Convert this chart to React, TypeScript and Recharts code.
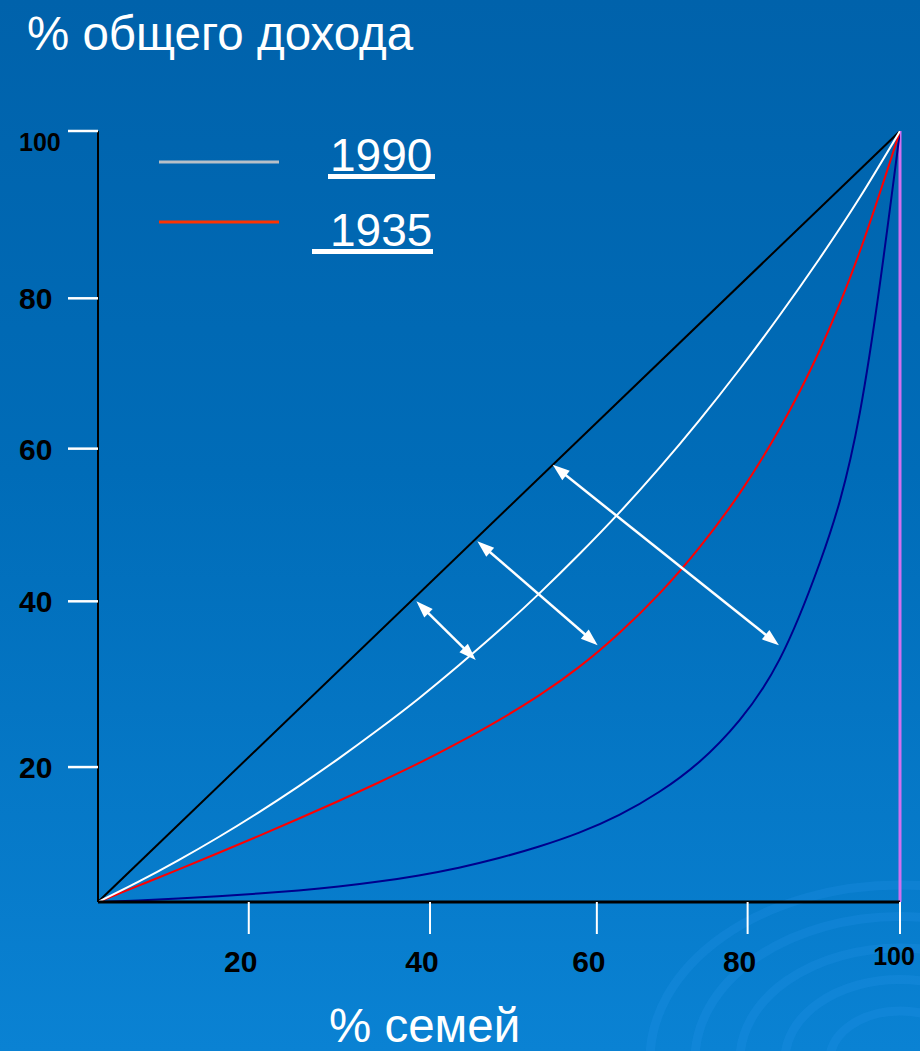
import React from 'react';
import { LineChart, Line, XAxis, YAxis, ReferenceLine } from 'recharts';

// % of families (x), evenly spaced grid shared by all curves
const familyShare = [0, 5, 10, 15, 20, 25, 30, 35, 40, 45, 50, 55, 60, 65, 70, 75, 80, 85, 90, 95, 100];
// % of total income
const income1990 = [0, 2.6, 5.4, 8.4, 11.6, 15.0, 18.6, 22.4, 26.4, 30.7, 35.2, 40.0, 45.1, 50.5, 56.3, 62.5, 69.1, 76.1, 83.5, 91.4, 100];
const income1935 = [0, 2.1, 4.2, 6.35, 8.55, 10.8, 13.1, 15.5, 18.0, 20.7, 23.6, 26.8, 30.5, 34.9, 40.0, 46.0, 53.0, 61.4, 71.6, 84.4, 100];
const incomeWorst = [0, 0.2, 0.45, 0.75, 1.1, 1.5, 2.0, 2.65, 3.45, 4.45, 5.7, 7.2, 9.0, 11.3, 14.3, 18.2, 23.6, 31.5, 44.0, 63.5, 100];
const equality = [0, 100];
const equalityX = [0, 100];

// ticks sit where the slide put them (not evenly spaced)
const xTickPos = [18.8, 41.4, 62.2, 81.0, 100];
const xTickLabels = ['20', '40', '60', '80', '100'];
const yTickPos = [17.5, 39.0, 58.8, 78.3, 100];
const yTickLabels = ['20', '40', '60', '80', '100'];

// gap arrows: [x1, y1, x2, y2]
const arrows = [
  [39.7, 39.0, 47.1, 31.4],
  [47.3, 46.8, 62.3, 33.3],
  [56.7, 56.7, 84.9, 33.3],
];

const legendLabels = ['1990', '1935'];
const legendColors = ['#b8c0c8', '#ff3300'];

const FONT = '"Liberation Sans", Arial, sans-serif';

const toPoints = (xs: number[], ys: number[]) => xs.map((x, i) => ({ x, y: ys[i] }));

const XTick = (props: any) => {
  const { x, y, index } = props;
  const label = xTickLabels[index];
  const small = label === '100';
  return (
    <text x={x - (small ? 6 : 8)} y={y + (small ? 31 : 38)} textAnchor="middle"
      fontSize={small ? 25 : 30} fontWeight="bold" fill="#000" fontFamily={FONT}>
      {label}
    </text>
  );
};

const YTick = (props: any) => {
  const { x, y, index } = props;
  const label = yTickLabels[index];
  const small = label === '100';
  return (
    <text x={x - 49} y={y + (small ? 20 : 11)} textAnchor="start"
      fontSize={small ? 25 : 30} fontWeight="bold" fill="#000" fontFamily={FONT}>
      {label}
    </text>
  );
};

const Arrow = (props: any) => {
  const { x1, y1, x2, y2 } = props;
  const dx = x2 - x1;
  const dy = y2 - y1;
  const len = Math.sqrt(dx * dx + dy * dy);
  const ux = dx / len;
  const uy = dy / len;
  const head = 17;
  const half = 6;
  const head1 = `${x1},${y1} ${x1 + ux * head - uy * half},${y1 + uy * head + ux * half} ${x1 + ux * head + uy * half},${y1 + uy * head - ux * half}`;
  const head2 = `${x2},${y2} ${x2 - ux * head - uy * half},${y2 - uy * head + ux * half} ${x2 - ux * head + uy * half},${y2 - uy * head - ux * half}`;
  return (
    <g>
      <line x1={x1 + ux * 10} y1={y1 + uy * 10} x2={x2 - ux * 10} y2={y2 - uy * 10} stroke="#fff" strokeWidth={2.5} />
      <polygon points={head1} fill="#fff" />
      <polygon points={head2} fill="#fff" />
    </g>
  );
};

export default function App() {
  return (
    <div style={{
      position: 'absolute', left: 0, top: 0, width: 920, height: 1051, overflow: 'hidden',
      background: 'linear-gradient(180deg, #0062ab 0%, #006cb8 45%, #0a82d3 100%)',
    }}>
      <svg width={920} height={1051} style={{ position: 'absolute', left: 0, top: 0 }}>
        {[250, 205, 160, 115, 70].map((r, i) => (
          <ellipse key={i} cx={900} cy={1060} rx={r} ry={r * 0.7} fill="none"
            stroke="#2a96ec" strokeOpacity={0.22} strokeWidth={9} />
        ))}
      </svg>
      <div style={{ position: 'absolute', left: 0, top: 0 }}>
        <LineChart width={920} height={1051} margin={{ top: 131, right: 20, bottom: 49, left: 18 }}>
          <XAxis dataKey="x" type="number" domain={[0, 100]} ticks={xTickPos} interval={0}
            height={100} tickSize={32} tickMargin={0} allowDataOverflow
            axisLine={{ stroke: '#000', strokeWidth: 3 }}
            tickLine={{ stroke: '#fff', strokeWidth: 2 }} tick={<XTick />} />
          <YAxis type="number" domain={[0, 100]} ticks={yTickPos} interval={0}
            width={80} tickSize={30} tickMargin={0} allowDataOverflow
            axisLine={{ stroke: '#000', strokeWidth: 2 }}
            tickLine={{ stroke: '#fff', strokeWidth: 2.5 }} tick={<YTick />} />
          <ReferenceLine x={100} stroke="#d070f0" strokeWidth={3} ifOverflow="extendDomain" />
          <Line data={toPoints(equalityX, equality)} dataKey="y" type="linear" stroke="#000"
            strokeWidth={2} dot={false} activeDot={false} isAnimationActive={false} />
          <Line data={toPoints(familyShare, incomeWorst)} dataKey="y" type="natural" stroke="#00008c"
            strokeWidth={2} dot={false} activeDot={false} isAnimationActive={false} />
          <Line data={toPoints(familyShare, income1935)} dataKey="y" type="natural" stroke="#ff0000"
            strokeWidth={2} dot={false} activeDot={false} isAnimationActive={false} />
          <Line data={toPoints(familyShare, income1990)} dataKey="y" type="natural" stroke="#ffffff"
            strokeWidth={2} dot={false} activeDot={false} isAnimationActive={false} />
          {arrows.map((a, i) => (
            <ReferenceLine key={i} segment={[{ x: a[0], y: a[1] }, { x: a[2], y: a[3] }]}
              shape={<Arrow />} ifOverflow="visible" />
          ))}
        </LineChart>
      </div>
      <svg width={920} height={1051} style={{ position: 'absolute', left: 0, top: 0, pointerEvents: 'none' }}>
        <text x={27} y={50} fontSize={47.5} fill="#fff" fontFamily={FONT}>% общего дохода</text>
        <text x={329} y={1042} fontSize={47.5} fill="#fff" fontFamily={FONT}>% семей</text>
        {legendLabels.map((label, i) => (
          <g key={label}>
            <line x1={159} x2={279} y1={162 + i * 60} y2={162 + i * 60} stroke={legendColors[i]} strokeWidth={3} />
            <text x={330} y={171 + i * 75} fontSize={46} fill="#fff" fontFamily={FONT}>{label}</text>
            <rect x={i === 0 ? 328 : 312} y={174 + i * 75} width={i === 0 ? 107 : 121} height={5} fill="#fff" />
          </g>
        ))}
      </svg>
    </div>
  );
}
